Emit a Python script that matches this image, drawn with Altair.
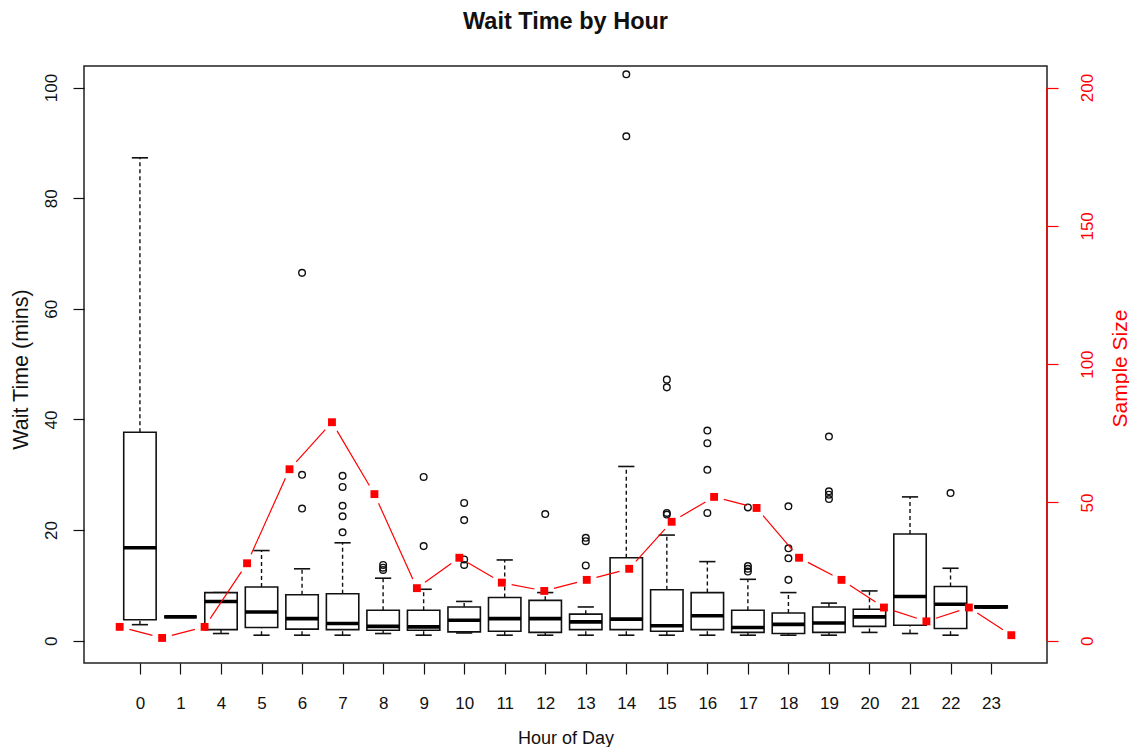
import altair as alt
import numpy as np
import pandas as pd

# ---------------- data ----------------
hour_labels = ["0", "1", "4", "5", "6", "7", "8", "9", "10", "11", "12",
               "13", "14", "15", "16", "17", "18", "19", "20", "21", "22", "23"]

whisker_low = [2.9, 4.3, 1.3, 1.0, 1.0, 1.0, 1.3, 1.0, 1.4, 1.0, 1.0,
               1.0, 1.0, 1.0, 1.0, 1.0, 1.0, 1.0, 1.5, 1.3, 1.0, 5.9]
quart_1 = [3.8, 4.3, 2.0, 2.4, 2.1, 2.0, 1.9, 1.9, 1.6, 1.7, 1.5,
           2.0, 2.0, 1.7, 2.0, 1.5, 1.3, 1.5, 2.6, 2.8, 2.2, 5.9]
median = [16.8, 4.3, 7.1, 5.2, 4.0, 3.1, 2.6, 2.5, 3.7, 4.0, 4.0,
          3.4, 3.9, 2.7, 4.5, 2.4, 2.95, 3.2, 4.3, 8.0, 6.6, 6.1]
quart_3 = [37.7, 4.3, 8.7, 9.7, 8.3, 8.5, 5.5, 5.5, 6.1, 7.8, 7.3,
           4.8, 15.0, 9.2, 8.7, 5.5, 5.0, 6.1, 5.7, 19.3, 9.8, 6.3]
whisker_high = [87.3, 4.3, 8.7, 16.3, 13.0, 17.7, 11.3, 9.3, 7.1, 14.6, 8.7,
                6.1, 31.5, 19.1, 14.3, 11.1, 8.7, 6.8, 9.0, 26.0, 13.1, 6.3]

outlier_hours = ["6", "6", "6",
                 "7", "7", "7", "7", "7",
                 "8", "8", "8",
                 "9", "9",
                 "10", "10", "10", "10",
                 "12",
                 "13", "13", "13",
                 "14", "14",
                 "15", "15", "15", "15",
                 "16", "16", "16", "16",
                 "17", "17", "17", "17",
                 "18", "18", "18", "18",
                 "19", "19", "19", "19",
                 "22"]
outlier_values = [66.5, 30.0, 23.9,
                  29.8, 27.8, 24.4, 22.5, 19.6,
                  13.7, 13.2, 12.8,
                  29.6, 17.1,
                  24.9, 21.8, 14.7, 13.7,
                  22.9,
                  18.6, 18.0, 13.6,
                  102.4, 91.2,
                  47.2, 45.8, 23.1, 22.8,
                  38.0, 35.7, 30.9, 23.1,
                  24.1, 13.5, 13.0, 12.5,
                  24.3, 16.7, 14.9, 11.0,
                  36.9, 27.0, 26.4, 25.6,
                  26.7]

sample_size = [5, 1, 5, 28, 62, 79, 53, 19, 30, 21, 18,
               22, 26, 43, 52, 48, 30, 22, 12, 7, 12, 2]

left_ticks = [0, 20, 40, 60, 80, 100]
right_ticks = [0, 50, 100, 150, 200]

# ---------------- layout / style ----------------
FONT = "Liberation Sans"
INK = "#111111"
W, H = 963, 597
GAP = 10  # px gap around each point on the sample-size line (R type = "b")

# R style ranges (4% extension)
n_box = len(hour_labels)
xs_dom = [0.5 - 0.04 * n_box, n_box + 0.5 + 0.04 * n_box]
ys_dom = [-4.03, 103.9]
xr_dom = [1 - 0.04 * (n_box - 1), n_box + 0.04 * (n_box - 1)]
yr_dom = [-8.06, 207.8]
xs = alt.Scale(domain=xs_dom, nice=False, zero=False)
ys = alt.Scale(domain=ys_dom, nice=False, zero=False)
xr = alt.Scale(domain=xr_dom, nice=False, zero=False)
yr = alt.Scale(domain=yr_dom, nice=False, zero=False)

# ---------------- tables ----------------
pos = list(range(1, n_box + 1))
hour_pos = {h: i + 1 for i, h in enumerate(hour_labels)}
box_df = pd.DataFrame({"pos": pos, "hour": hour_labels, "lo": whisker_low,
                       "q1": quart_1, "med": median, "q3": quart_3,
                       "hi": whisker_high})
out_df = pd.DataFrame({"pos": [hour_pos[h] for h in outlier_hours],
                       "value": outlier_values})
n_df = pd.DataFrame({"pos": pos, "n": sample_size})
span_df = pd.DataFrame({"lo": [right_ticks[0]], "hi": [right_ticks[-1]]})

# line segments between consecutive sample-size points, trimmed near the points
x0 = np.array(pos[:-1], float)
x1 = np.array(pos[1:], float)
y0 = np.array(sample_size[:-1], float)
y1 = np.array(sample_size[1:], float)
px_x = W / (xr_dom[1] - xr_dom[0])
px_y = H / (yr_dom[1] - yr_dom[0])
seg_len = np.hypot((x1 - x0) * px_x, (y1 - y0) * px_y)
frac = GAP / seg_len
seg_df = pd.DataFrame({
    "xa": x0 + (x1 - x0) * frac, "ya": y0 + (y1 - y0) * frac,
    "xb": x1 - (x1 - x0) * frac, "yb": y1 - (y1 - y0) * frac,
    "len": seg_len})
seg_df = seg_df[seg_df["len"] > 2 * GAP]

label_expr = "[" + ",".join("'%s'" % h for h in hour_labels) + "][datum.value - 1]"

x_axis = alt.Axis(values=pos, labelExpr=label_expr, title="Hour of Day", orient="bottom",
                  domain=False, grid=False, tickSize=11, tickColor=INK, tickWidth=1.2,
                  labelFontSize=17, labelColor=INK, labelPadding=21, labelFont=FONT,
                  labelFlush=False, labelOverlap=False, labelAngle=0,
                  titleFontSize=18, titleFont=FONT, titleFontWeight="normal", titleColor=INK,
                  titleY=80, titleBaseline="alphabetic")

y_axis = alt.Axis(values=left_ticks, title="Wait Time (mins)", orient="left",
                  domain=False, grid=False, tickSize=11, tickColor=INK, tickWidth=1.2,
                  labelAngle=270, labelAlign="center", labelBaseline="middle",
                  labelPadding=22, labelFontSize=17, labelColor=INK, labelFont=FONT,
                  labelFlush=False, labelOverlap=False,
                  titleFontSize=21.5, titleFont=FONT, titleFontWeight="normal", titleColor=INK,
                  titleAngle=270, titleX=-63, titleY=303, titleAlign="center",
                  titleBaseline="middle")

r_axis = alt.Axis(values=right_ticks, title="Sample Size", orient="right",
                  domain=False, grid=False, tickSize=11, tickColor="red", tickWidth=1.2,
                  labelAngle=270, labelAlign="center", labelBaseline="middle",
                  labelPadding=29, labelFontSize=17, labelColor="red", labelFont=FONT,
                  labelFlush=False, labelOverlap=False,
                  titleFontSize=21, titleFont=FONT, titleFontWeight="normal", titleColor="red",
                  titleAngle=270, titleX=73, titleY=302, titleAlign="center",
                  titleBaseline="middle")

base = alt.Chart(box_df).transform_calculate(
    left="datum.pos - 0.4", right="datum.pos + 0.4",
    capl="datum.pos - 0.2", capr="datum.pos + 0.2")

whisk_lo = base.mark_rule(color=INK, strokeWidth=1.4, strokeDash=[4, 3]).encode(
    x=alt.X("pos:Q", scale=xs, axis=x_axis),
    y=alt.Y("lo:Q", scale=ys, axis=y_axis), y2="q1:Q")
whisk_hi = base.mark_rule(color=INK, strokeWidth=1.4, strokeDash=[4, 3]).encode(
    x=alt.X("pos:Q", scale=xs, axis=None),
    y=alt.Y("q3:Q", scale=ys, axis=None), y2="hi:Q")
cap_lo = base.mark_rule(color=INK, strokeWidth=1.6).encode(
    x=alt.X("capl:Q", scale=xs, axis=None), x2="capr:Q",
    y=alt.Y("lo:Q", scale=ys, axis=None))
cap_hi = base.mark_rule(color=INK, strokeWidth=1.6).encode(
    x=alt.X("capl:Q", scale=xs, axis=None), x2="capr:Q",
    y=alt.Y("hi:Q", scale=ys, axis=None))
boxes = base.mark_rect(fill="white", stroke=INK, strokeWidth=1.6).encode(
    x=alt.X("left:Q", scale=xs, axis=None), x2="right:Q",
    y=alt.Y("q1:Q", scale=ys, axis=None), y2="q3:Q")
medians = base.mark_rule(color="black", strokeWidth=3.6).encode(
    x=alt.X("left:Q", scale=xs, axis=None), x2="right:Q",
    y=alt.Y("med:Q", scale=ys, axis=None))
outliers = alt.Chart(out_df).mark_point(shape="circle", filled=False, color=INK,
                                        size=44, strokeWidth=1.4, opacity=1).encode(
    x=alt.X("pos:Q", scale=xs, axis=None),
    y=alt.Y("value:Q", scale=ys, axis=None))

red_segs = alt.Chart(seg_df).mark_rule(color="red", strokeWidth=1.2).encode(
    x=alt.X("xa:Q", scale=xr, axis=None), x2="xb:Q",
    y=alt.Y("ya:Q", scale=yr, axis=r_axis), y2="yb:Q")
red_span = alt.Chart(span_df).mark_rule(color="red", strokeWidth=1.4).encode(
    x=alt.value(W),
    y=alt.Y("lo:Q", scale=yr, axis=None), y2="hi:Q")
red_pts = alt.Chart(n_df).mark_square(color="red", size=62, opacity=1).encode(
    x=alt.X("pos:Q", scale=xr, axis=None),
    y=alt.Y("n:Q", scale=yr, axis=None))

chart = alt.layer(
    whisk_lo, whisk_hi, cap_lo, cap_hi, boxes, medians, outliers,
    red_segs, red_span, red_pts
).resolve_scale(
    x="independent", y="independent"
).properties(
    width=W, height=H,
    background="white",
    title=alt.TitleParams("Wait Time by Hour", anchor="middle", frame="group",
                          offset=14, baseline="alphabetic", fontSize=23.5,
                          font=FONT, fontWeight="bold", color=INK),
    autosize=alt.AutoSizeParams(type="none"),
    padding={"left": 76, "top": 58, "right": 82, "bottom": 84},
).configure_view(stroke="#222222", strokeWidth=1.5)

chart.save("out.html", embed_options={"renderer": "svg", "actions": False})
